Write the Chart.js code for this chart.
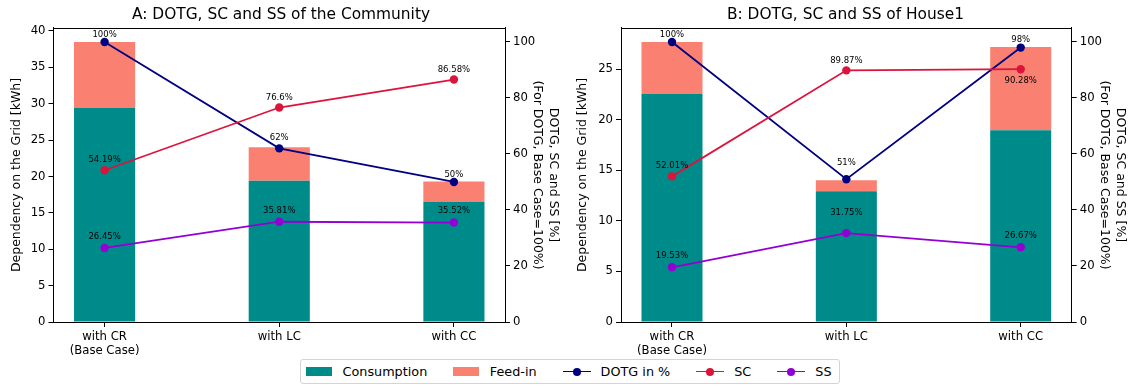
<!DOCTYPE html>
<html>
<head>
<meta charset="utf-8">
<script src="https://cdn.jsdelivr.net/npm/chart.js@4.4.1/dist/chart.umd.min.js"></script>
<style>
  body { margin: 0; background: #fff; }
  #page { position: relative; width: 1129px; height: 385px; overflow: hidden; font-family: "DejaVu Sans", sans-serif; }
  .panel { position: absolute; top: 0; }
  #legend {
    position: absolute; left: 300px; top: 359px; height: 23px;
    border: 1px solid #d4d4d4; border-radius: 3px; background: #fff;
    display: flex; align-items: center; padding: 0 7px 0 5px;
    font-size: 12.8px; color: #000; white-space: nowrap;
  }
  .item { display: flex; align-items: center; margin-right: 26px; }
  .item:last-child { margin-right: 0; }
  .swatch { width: 26px; height: 9px; margin-right: 10.5px; }
  .handle { position: relative; width: 28px; height: 10px; margin-right: 10px; }
  .handle .ln { position: absolute; left: 0; right: 0; top: 4.1px; height: 1.8px; }
  .handle .dot { position: absolute; left: 10px; top: 1px; width: 8px; height: 8px; border-radius: 50%; }
</style>
</head>
<body>
<div id="page">
  <div class="panel" style="left:0;"><canvas id="chartA" width="562" height="358"></canvas></div>
  <div class="panel" style="left:562px;"><canvas id="chartB" width="567" height="358"></canvas></div>
  <div id="legend"></div>
</div>
<script>
// categories and series
const categories = ['with CR\n(Base Case)', 'with LC', 'with CC'];
const seriesNames = ['Consumption', 'Feed-in', 'DOTG in %', 'SC', 'SS'];

// A: community, energy from the grid [kWh] and ratios [%]
const communityConsumption = [29.46, 19.42, 16.48];
const communityFeedIn = [9.03, 4.60, 2.82];
const communityDotg = [100, 62, 50];
const communitySc = [54.19, 76.6, 86.58];
const communitySs = [26.45, 35.81, 35.52];

// B: house 1
const houseConsumption = [22.52, 12.92, 18.96];
const houseFeedIn = [5.15, 1.09, 8.22];
const houseDotg = [100, 51, 98];
const houseSc = [52.01, 89.87, 90.28];
const houseSs = [19.53, 31.75, 26.67];

// tick labels
const communityKwhTicks = [0, 5, 10, 15, 20, 25, 30, 35, 40];
const houseKwhTicks = [0, 5, 10, 15, 20, 25];
const percentTicks = [0, 20, 40, 60, 80, 100];

const seriesColors = ['#008b8b', '#fa8072', '#000080', '#dc143c', '#9400d3'];

Chart.defaults.font.family = '"DejaVu Sans", sans-serif';
Chart.defaults.color = '#000';

// value labels next to the line markers
const pointLabels = {
  id: 'pointLabels',
  afterDatasetsDraw(chart, args, opts) {
    const ctx = chart.ctx;
    ctx.save();
    ctx.font = '8.5px "DejaVu Sans"';
    ctx.fillStyle = '#000';
    ctx.textAlign = 'center';
    ctx.textBaseline = 'middle';
    chart.data.datasets.forEach((ds, di) => {
      if (ds.type !== 'line') return;
      const lift = opts.lift[ds.label];
      chart.getDatasetMeta(di).data.forEach((pt, i) => {
        ctx.fillText(ds.data[i].y + '%', pt.x, pt.y - lift[i]);
      });
    });
    ctx.restore();
  }
};

// top spine of the axes box
const topSpine = {
  id: 'topSpine',
  afterDraw(chart) {
    const { ctx, chartArea: a } = chart;
    ctx.save();
    ctx.strokeStyle = '#000';
    ctx.lineWidth = 1;
    ctx.beginPath();
    ctx.moveTo(a.left, Math.round(a.top) + 0.5);
    ctx.lineTo(a.right, Math.round(a.top) + 0.5);
    ctx.stroke();
    ctx.restore();
  }
};

const toPoints = arr => arr.map((v, i) => ({ x: i, y: v }));

function lineSet(label, values, color, order) {
  return {
    type: 'line', label, data: toPoints(values), yAxisID: 'y1', order,
    borderColor: color, backgroundColor: color, borderWidth: 1.8,
    pointRadius: 4.2, pointBorderWidth: 0, pointBackgroundColor: color,
    tension: 0, clip: false
  };
}

function axisTicks(values) {
  return scale => { scale.ticks = values.map(v => ({ value: v })); };
}

const tickGrid = { drawOnChartArea: false, drawTicks: true, offset: false, tickLength: 5, tickColor: '#000', color: '#000' };
const spine = { display: true, color: '#000', width: 1 };

function makeChart(id, title, consumption, feedIn, dotg, sc, ss, kwhTicks, geo, lift) {
  const totals = consumption.map((v, i) => v + feedIn[i]);
  const kwhMax = Math.max(...totals) * 1.05;
  return new Chart(document.getElementById(id), {
    type: 'bar',
    data: {
      datasets: [
        lineSet(seriesNames[4], ss, seriesColors[4], 1),
        lineSet(seriesNames[3], sc, seriesColors[3], 2),
        lineSet(seriesNames[2], dotg, seriesColors[2], 3),
        { type: 'bar', label: seriesNames[0], data: toPoints(consumption), stack: 'grid', yAxisID: 'y',
          backgroundColor: seriesColors[0], borderWidth: 0, order: 4,
          categoryPercentage: 1, barPercentage: 0.35 },
        { type: 'bar', label: seriesNames[1], data: toPoints(feedIn), stack: 'grid', yAxisID: 'y',
          backgroundColor: seriesColors[1], borderWidth: 0, order: 4,
          categoryPercentage: 1, barPercentage: 0.35 }
      ]
    },
    options: {
      responsive: false,
      animation: false,
      devicePixelRatio: 1,
      layout: { padding: 0 },
      plugins: {
        legend: { display: false },
        tooltip: { enabled: false },
        title: { display: true, text: title, color: '#000',
                 font: { size: 15.4, weight: 'normal' }, padding: { top: 5.8, bottom: 3.7 } },
        pointLabels: { lift }
      },
      scales: {
        x: {
          type: 'linear', min: -0.2925, max: 2.2925, offset: false, stacked: true,
          afterBuildTicks: axisTicks([0, 1, 2]),
          afterFit: s => { s.height = 36; },
          ticks: { callback: v => categories[v].split('\n'), maxRotation: 0, minRotation: 0,
                   autoSkip: false, padding: 2.5, font: { size: 11.7, lineHeight: 1.22 } },
          grid: tickGrid, border: spine
        },
        y: {
          position: 'left', stacked: true, min: 0, max: kwhMax,
          afterBuildTicks: axisTicks(kwhTicks),
          afterFit: s => { s.width = geo.left; },
          ticks: { font: { size: 11.7 }, padding: 3 },
          grid: tickGrid, border: spine,
          title: { display: true, text: 'Dependency on the Grid [kWh]',
                   font: { size: 12.5, lineHeight: 1.25 }, padding: { top: geo.yTitle } }
        },
        y1: {
          position: 'right', min: 0, max: 105,
          afterBuildTicks: axisTicks(percentTicks),
          afterFit: s => { s.width = geo.right; },
          ticks: { font: { size: 11.7 }, padding: 3 },
          grid: tickGrid, border: spine,
          title: { display: true, text: ['DOTG, SC and SS [%]', '(For DOTG, Base Case=100%)'],
                   font: { size: 12.5, lineHeight: 1.25 }, padding: { top: 1.2 } }
        }
      }
    },
    plugins: [pointLabels, topSpine]
  });
}

makeChart('chartA', 'A: DOTG, SC and SS of the Community',
  communityConsumption, communityFeedIn, communityDotg, communitySc, communitySs,
  communityKwhTicks, { left: 53.5, right: 57, yTitle: 9.2 },
  { 'DOTG in %': [7.5, 10.5, 7.5], 'SC': [10, 10, 10], 'SS': [11.3, 11.3, 11.3] });

makeChart('chartB', 'B: DOTG, SC and SS of House1',
  houseConsumption, houseFeedIn, houseDotg, houseSc, houseSs,
  houseKwhTicks, { left: 59, right: 57.3, yTitle: 13.2 },
  { 'DOTG in %': [7.5, 16.5, 7.5], 'SC': [11, 9.5, -11.5], 'SS': [11.5, 20, 11.5] });

// shared legend under both panels
const legend = document.getElementById('legend');
seriesNames.forEach((name, i) => {
  const item = document.createElement('div');
  item.className = 'item';
  const color = seriesColors[i];
  if (i < 2) {
    item.innerHTML = `<span class="swatch" style="background:${color}"></span>`;
  } else {
    item.innerHTML = `<span class="handle"><span class="ln" style="background:${color}"></span>` +
                     `<span class="dot" style="background:${color}"></span></span>`;
  }
  const text = document.createElement('span');
  text.textContent = name;
  item.appendChild(text);
  legend.appendChild(item);
});
</script>
</body>
</html>
